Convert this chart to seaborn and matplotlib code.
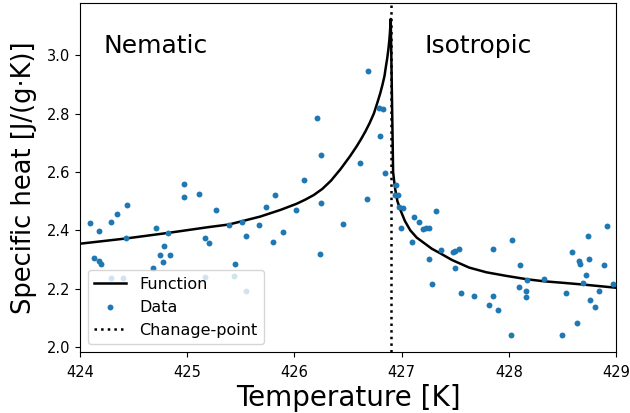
import matplotlib
matplotlib.use("Agg")
import matplotlib.pyplot as plt
import seaborn as sns
import pandas as pd

# Measured specific heat around the nematic-isotropic transition
temp_data = [
    424.093, 424.178, 424.290, 424.346, 424.436, 424.430, 424.128, 424.178, 424.193,
    424.969, 424.969, 425.109, 425.264, 424.713, 424.822, 425.165, 425.206, 424.782,
    424.745, 424.835, 424.776, 424.682, 425.386, 425.507, 425.551, 425.666, 425.442,
    424.290, 424.402, 425.164, 425.439, 425.551, 425.738, 425.816, 425.801, 425.897,
    426.019, 426.089, 426.252, 426.252, 426.234, 426.449, 426.685, 426.792, 426.829,
    426.210, 426.794, 426.607, 426.844, 426.673,
    426.950, 426.937, 426.967, 426.975, 427.012, 426.995, 427.318, 427.112, 427.159,
    427.199, 427.224, 427.252, 427.096, 427.362, 427.255, 427.474, 427.498, 427.536,
    427.853, 427.495, 427.280, 427.551, 427.673, 427.848, 427.810, 427.900, 428.028,
    428.106, 428.091, 428.165, 428.159, 428.159, 428.330, 428.019, 428.493, 428.533,
    428.636, 428.586, 428.654, 428.661, 428.741, 428.748, 428.717, 428.689, 428.760,
    428.804, 428.841, 428.891, 428.919, 428.975,
]
heat_data = [
    2.424, 2.396, 2.428, 2.455, 2.488, 2.372, 2.304, 2.295, 2.286,
    2.560, 2.515, 2.525, 2.469, 2.408, 2.391, 2.373, 2.357, 2.346,
    2.316, 2.316, 2.292, 2.272, 2.417, 2.429, 2.382, 2.417, 2.285,
    2.237, 2.237, 2.240, 2.242, 2.191, 2.481, 2.520, 2.360, 2.393,
    2.469, 2.571, 2.657, 2.492, 2.317, 2.423, 2.947, 2.820, 2.815,
    2.785, 2.725, 2.630, 2.597, 2.507,
    2.557, 2.521, 2.521, 2.481, 2.478, 2.408, 2.467, 2.444, 2.429,
    2.406, 2.408, 2.407, 2.359, 2.333, 2.302, 2.326, 2.328, 2.336,
    2.336, 2.269, 2.217, 2.184, 2.175, 2.173, 2.145, 2.126, 2.366,
    2.281, 2.207, 2.229, 2.191, 2.172, 2.232, 2.040, 2.040, 2.185,
    2.081, 2.327, 2.295, 2.284, 2.381, 2.303, 2.246, 2.220, 2.160,
    2.137, 2.192, 2.281, 2.415, 2.216,
]

# Fitted curve, sampled on both sides of the transition
temp_func = [
    424.00, 424.43, 424.82, 425.20, 425.39, 425.68, 425.87, 426.02, 426.10, 426.18,
    426.26, 426.34, 426.43, 426.52, 426.58, 426.62, 426.66, 426.70, 426.74, 426.77,
    426.80, 426.82, 426.84, 426.85, 426.865, 426.875, 426.883, 426.89, 426.898,
    426.92, 426.93, 426.94, 426.96, 426.99, 427.03, 427.08, 427.14, 427.21, 427.28,
    427.36, 427.47, 427.63, 427.79, 427.97, 428.17, 428.33, 428.50, 428.69, 429.00,
]
heat_func = [
    2.354, 2.372, 2.391, 2.411, 2.420, 2.447, 2.470, 2.491, 2.505, 2.521,
    2.542, 2.570, 2.610, 2.655, 2.688, 2.712, 2.738, 2.767, 2.800, 2.834,
    2.870, 2.898, 2.930, 2.955, 2.990, 3.018, 3.045, 3.076, 3.125,
    2.600, 2.568, 2.540, 2.500, 2.468, 2.432, 2.400, 2.375, 2.356, 2.337,
    2.321, 2.298, 2.272, 2.256, 2.244, 2.232, 2.225, 2.220, 2.214, 2.203,
]

change_point = 426.9
phase_labels = ["Nematic", "Isotropic"]
phase_label_x = [424.215, 427.215]
phase_label_y = 3.033

data_df = pd.DataFrame({"T": temp_data, "C": heat_data})
func_df = pd.DataFrame({"T": temp_func, "C": heat_func})

fig, ax = plt.subplots(figsize=(6.3, 4.13), dpi=100)
fig.subplots_adjust(left=0.127, right=0.978, top=0.993, bottom=0.148)

sns.lineplot(data=func_df, x="T", y="C", ax=ax, color="black", linewidth=1.8,
             estimator=None, sort=False, label="Function", zorder=2)
sns.scatterplot(data=data_df, x="T", y="C", ax=ax, color="#1f77b4", s=18,
                linewidth=0, label="Data", zorder=3)
ax.axvline(change_point, color="black", linestyle=":", linewidth=1.8,
           label="Chanage-point", zorder=2)

for text, x in zip(phase_labels, phase_label_x):
    ax.text(x, phase_label_y, text, fontsize=18, ha="left", va="center")

ax.set_xlim(424, 429)
ax.set_ylim(1.983, 3.18)
ax.set_xticks([424, 425, 426, 427, 428, 429])
ax.set_yticks([2.0, 2.2, 2.4, 2.6, 2.8, 3.0])
ax.tick_params(labelsize=10.5)
ax.tick_params(axis="x", pad=6)
ax.set_xlabel("Temperature [K]", fontsize=20, labelpad=3)
ax.set_ylabel("Specific heat [J/(g·K)]", fontsize=18.5, labelpad=7)

handles, labels = ax.get_legend_handles_labels()
order = [labels.index(l) for l in ["Function", "Data", "Chanage-point"]]
ax.legend([handles[i] for i in order], [labels[i] for i in order],
          loc="lower left", fontsize=11.5)

fig.savefig("out.png", dpi=100)
